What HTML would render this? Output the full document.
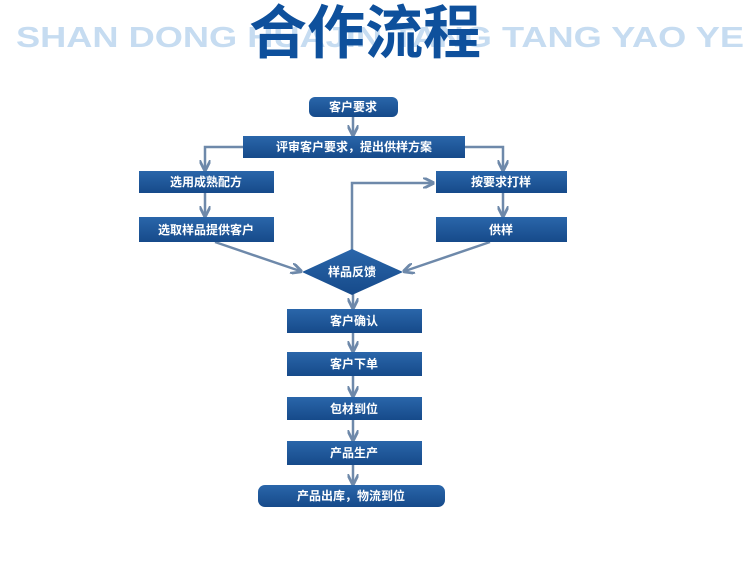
<!DOCTYPE html>
<html><head><meta charset="utf-8"><style>
html,body{margin:0;padding:0;background:#fff;width:750px;height:574px;overflow:hidden}
svg{display:block}
text{font-family:"Liberation Sans","Noto Sans CJK SC",sans-serif}
</style></head><body>
<svg width="750" height="574" viewBox="0 0 750 574" xmlns="http://www.w3.org/2000/svg">
<defs>
<linearGradient id="g" x1="0" y1="0" x2="0" y2="1">
<stop offset="0" stop-color="#2a66aa"/><stop offset="1" stop-color="#164a8a"/>
</linearGradient>
<marker id="a" viewBox="0 0 10 10" refX="8" refY="5" markerWidth="4.5" markerHeight="4.5" orient="auto">
<path d="M0,0 L10,5 L0,10" fill="none" stroke="#6e89aa" stroke-width="2.5"/>
</marker>
</defs>
<text x="16" y="47" font-size="29" fill="#c6dcf1" textLength="728" lengthAdjust="spacingAndGlyphs" font-weight="bold">SHAN DONG HUAJIN TANG TANG YAO YE</text>
<text x="365" y="53" font-size="58" font-weight="bold" fill="#0e509c" text-anchor="middle" font-family="Noto Sans CJK SC, sans-serif">合作流程</text>

<g stroke="#6e89aa" stroke-width="2.5" fill="none">
<line x1="353" y1="117" x2="353" y2="134" marker-end="url(#a)"/>
<polyline points="243,147 205,147 205,169" marker-end="url(#a)"/>
<polyline points="465,147 503,147 503,169" marker-end="url(#a)"/>
<line x1="205" y1="193" x2="205" y2="215" marker-end="url(#a)"/>
<line x1="503" y1="193" x2="503" y2="215" marker-end="url(#a)"/>
<polyline points="352,250 352,183 432,183" marker-end="url(#a)"/>
<line x1="215" y1="242" x2="300" y2="271" marker-end="url(#a)"/>
<line x1="490" y1="242" x2="405" y2="271" marker-end="url(#a)"/>
<line x1="353" y1="294" x2="353" y2="307" marker-end="url(#a)"/>
<line x1="353" y1="333" x2="353" y2="350" marker-end="url(#a)"/>
<line x1="353" y1="376" x2="353" y2="395" marker-end="url(#a)"/>
<line x1="353" y1="420" x2="353" y2="439" marker-end="url(#a)"/>
<line x1="353" y1="465" x2="353" y2="483" marker-end="url(#a)"/>
</g>

<g fill="url(#g)">
<rect x="309" y="97" width="89" height="20" rx="6"/>
<rect x="243" y="136" width="222" height="22"/>
<rect x="139" y="171" width="135" height="22"/>
<rect x="139" y="217" width="135" height="25"/>
<rect x="436" y="171" width="131" height="22"/>
<rect x="436" y="217" width="131" height="25"/>
<polygon points="352,249 403,272 352,295 302,272"/>
<rect x="287" y="309" width="135" height="24"/>
<rect x="287" y="352" width="135" height="24"/>
<rect x="287" y="397" width="135" height="23"/>
<rect x="287" y="441" width="135" height="24"/>
<rect x="258" y="485" width="187" height="22" rx="7"/>
</g>

<g fill="#fff" font-size="12" font-weight="bold" text-anchor="middle">
<text x="353" y="111">客户要求</text>
<text x="354" y="151">评审客户要求，提出供样方案</text>
<text x="206" y="186">选用成熟配方</text>
<text x="206" y="234">选取样品提供客户</text>
<text x="501" y="186">按要求打样</text>
<text x="501" y="234">供样</text>
<text x="352" y="276">样品反馈</text>
<text x="354" y="325">客户确认</text>
<text x="354" y="368">客户下单</text>
<text x="354" y="413">包材到位</text>
<text x="354" y="457">产品生产</text>
<text x="351" y="500">产品出库，物流到位</text>
</g>
</svg>
</body></html>
